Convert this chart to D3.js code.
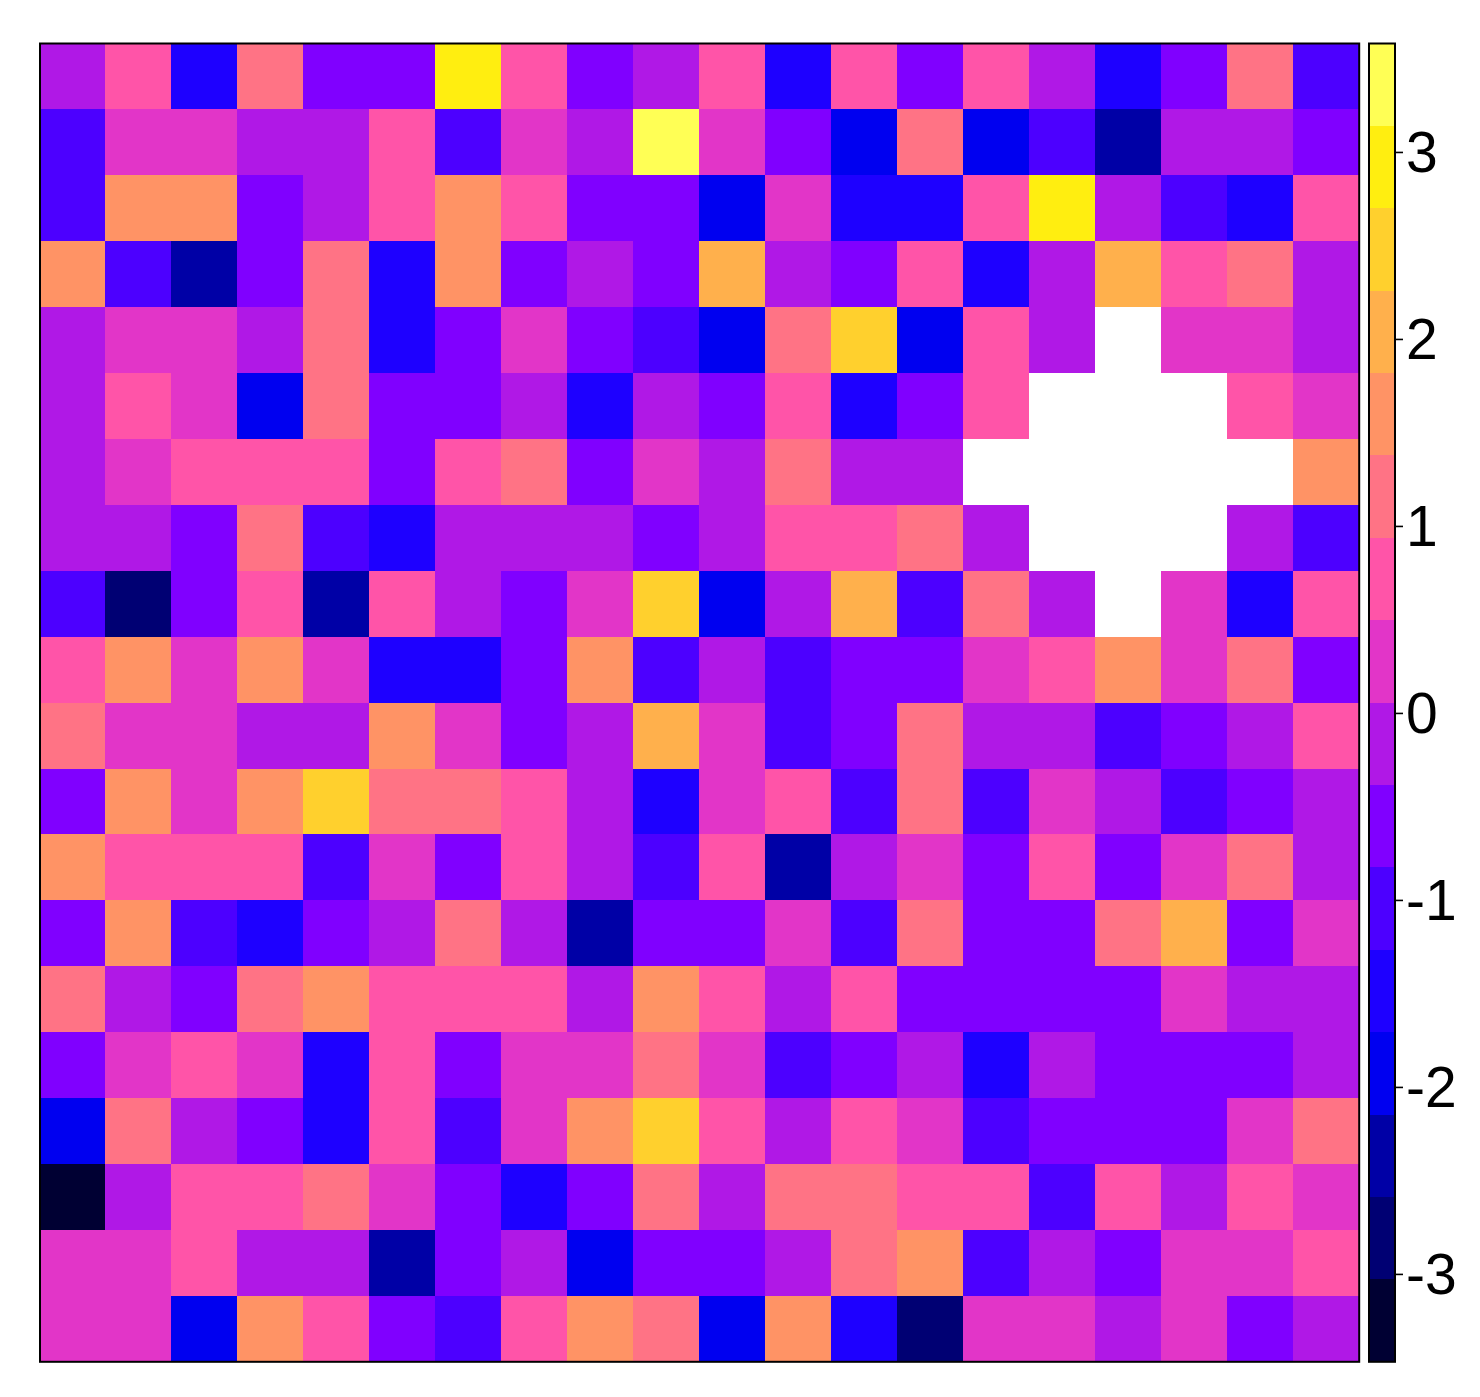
<!DOCTYPE html>
<html>
<head>
<meta charset="utf-8">
<script src="https://d3js.org/d3.v7.min.js"></script>
<style>
html, body { margin: 0; padding: 0; background: #fff; }
svg { display: block; }
</style>
</head>
<body>
<div id="chart"></div>
<script>
// cell values, top row first, null = missing (white)
var row01 = [-0.17,0.71,-1.49,1.15,-0.61,-0.61,2.91,0.71,-0.61,-0.17,0.71,-1.49,0.71,-0.61,0.71,-0.17,-1.49,-0.61,1.15,-1.05];
var row02 = [-1.05,0.27,0.27,-0.17,-0.17,0.71,-1.05,0.27,-0.17,3.35,0.27,-0.61,-1.93,1.15,-1.93,-1.05,-2.37,-0.17,-0.17,-0.61];
var row03 = [-1.05,1.59,1.59,-0.61,-0.17,0.71,1.59,0.71,-0.61,-0.61,-1.93,0.27,-1.49,-1.49,0.71,2.91,-0.17,-1.05,-1.49,0.71];
var row04 = [1.59,-1.05,-2.37,-0.61,1.15,-1.49,1.59,-0.61,-0.17,-0.61,2.03,-0.17,-0.61,0.71,-1.49,-0.17,2.03,0.71,1.15,-0.17];
var row05 = [-0.17,0.27,0.27,-0.17,1.15,-1.49,-0.61,0.27,-0.61,-1.05,-1.93,1.15,2.47,-1.93,0.71,-0.17,null,0.27,0.27,-0.17];
var row06 = [-0.17,0.71,0.27,-1.93,1.15,-0.61,-0.61,-0.17,-1.49,-0.17,-0.61,0.71,-1.49,-0.61,0.71,null,null,null,0.71,0.27];
var row07 = [-0.17,0.27,0.71,0.71,0.71,-0.61,0.71,1.15,-0.61,0.27,-0.17,1.15,-0.17,-0.17,null,null,null,null,null,1.59];
var row08 = [-0.17,-0.17,-0.61,1.15,-1.05,-1.49,-0.17,-0.17,-0.17,-0.61,-0.17,0.71,0.71,1.15,-0.17,null,null,null,-0.17,-1.05];
var row09 = [-1.05,-2.81,-0.61,0.71,-2.37,0.71,-0.17,-0.61,0.27,2.47,-1.93,-0.17,2.03,-1.05,1.15,-0.17,null,0.27,-1.49,0.71];
var row10 = [0.71,1.59,0.27,1.59,0.27,-1.49,-1.49,-0.61,1.59,-1.05,-0.17,-1.05,-0.61,-0.61,0.27,0.71,1.59,0.27,1.15,-0.61];
var row11 = [1.15,0.27,0.27,-0.17,-0.17,1.59,0.27,-0.61,-0.17,2.03,0.27,-1.05,-0.61,1.15,-0.17,-0.17,-1.05,-0.61,-0.17,0.71];
var row12 = [-0.61,1.59,0.27,1.59,2.47,1.15,1.15,0.71,-0.17,-1.49,0.27,0.71,-1.05,1.15,-1.05,0.27,-0.17,-1.05,-0.61,-0.17];
var row13 = [1.59,0.71,0.71,0.71,-1.05,0.27,-0.61,0.71,-0.17,-1.05,0.71,-2.37,-0.17,0.27,-0.61,0.71,-0.61,0.27,1.15,-0.17];
var row14 = [-0.61,1.59,-1.05,-1.49,-0.61,-0.17,1.15,-0.17,-2.37,-0.61,-0.61,0.27,-1.05,1.15,-0.61,-0.61,1.15,2.03,-0.61,0.27];
var row15 = [1.15,-0.17,-0.61,1.15,1.59,0.71,0.71,0.71,-0.17,1.59,0.71,-0.17,0.71,-0.61,-0.61,-0.61,-0.61,0.27,-0.17,-0.17];
var row16 = [-0.61,0.27,0.71,0.27,-1.49,0.71,-0.61,0.27,0.27,1.15,0.27,-1.05,-0.61,-0.17,-1.49,-0.17,-0.61,-0.61,-0.61,-0.17];
var row17 = [-1.93,1.15,-0.17,-0.61,-1.49,0.71,-1.05,0.27,1.59,2.47,0.71,-0.17,0.71,0.27,-1.05,-0.61,-0.61,-0.61,0.27,1.15];
var row18 = [-3.25,-0.17,0.71,0.71,1.15,0.27,-0.61,-1.49,-0.61,1.15,-0.17,1.15,1.15,0.71,0.71,-1.05,0.71,-0.17,0.71,0.27];
var row19 = [0.27,0.27,0.71,-0.17,-0.17,-2.37,-0.61,-0.17,-1.93,-0.61,-0.61,-0.17,1.15,1.59,-1.05,-0.17,-0.61,0.27,0.27,0.71];
var row20 = [0.27,0.27,-1.93,1.59,0.71,-0.61,-1.05,0.71,1.59,1.15,-1.93,1.59,-1.49,-2.81,0.27,0.27,-0.17,0.27,-0.61,-0.17];
var rows = [row01,row02,row03,row04,row05,row06,row07,row08,row09,row10,
            row11,row12,row13,row14,row15,row16,row17,row18,row19,row20];

var legend_ticks = [-3,-2,-1,0,1,2,3];
var value_range = [-3.47, 3.58];
var palette = ['#000033','#000073','#0000A6','#0000F0','#1E00FF','#4C00FF','#8000FF','#B018E6',
               '#E235C8','#FF54A8','#FF7385','#FF9365','#FFB04C','#FFD02D','#FFEE10','#FFFF55'];

var width = 1480, height = 1397;
var plot = {left: 39.4, right: 1359.2, top: 43.5, bottom: 1361.8};
var bar = {left: 1369, right: 1395};

var svg = d3.select("#chart")
  .append("svg")
  .attr("width", width)
  .attr("height", height);

var color = d3.scaleQuantize().domain(value_range).range(palette);
var x = d3.scaleBand().domain(d3.range(20)).range([plot.left, plot.right]);
var y = d3.scaleBand().domain(d3.range(20)).range([plot.top, plot.bottom]);

// heat map cells
svg.selectAll("g.row")
  .data(rows)
  .enter()
  .append("g")
  .attr("class", "row")
  .each(function(row, i){
    d3.select(this).selectAll("rect")
      .data(row)
      .enter()
      .append("rect")
      .attr("x", function(d, j){ return x(j); })
      .attr("y", y(i))
      .attr("width", x.bandwidth())
      .attr("height", y.bandwidth())
      .attr("shape-rendering", "crispEdges")
      .attr("fill", function(d){ return d === null ? "#fff" : color(d); });
  });

svg.append("rect")
  .attr("x", 40)
  .attr("y", plot.top)
  .attr("width", plot.right - 40)
  .attr("height", plot.bottom - plot.top)
  .attr("fill", "none")
  .attr("stroke", "#000")
  .attr("stroke-width", 2);

// colour bar
var legendY = d3.scaleLinear().domain(value_range).range([plot.bottom, plot.top]);

svg.selectAll("rect.band")
  .data(palette)
  .enter()
  .append("rect")
  .attr("class", "band")
  .attr("x", bar.left)
  .attr("width", bar.right - bar.left)
  .attr("y", function(d){ return legendY(color.invertExtent(d)[1]); })
  .attr("height", function(d){
    var e = color.invertExtent(d);
    return legendY(e[0]) - legendY(e[1]);
  })
  .attr("shape-rendering", "crispEdges")
  .attr("fill", function(d){ return d; });

svg.append("rect")
  .attr("x", bar.left)
  .attr("y", plot.top)
  .attr("width", bar.right - bar.left)
  .attr("height", plot.bottom - plot.top)
  .attr("fill", "none")
  .attr("stroke", "#000")
  .attr("stroke-width", 2);

var axis = d3.axisRight(legendY)
  .tickValues(legend_ticks)
  .tickSize(8)
  .tickPadding(3)
  .tickFormat(function(d){ return String(d); });

var axis_g = svg.append("g")
  .attr("transform", "translate(" + bar.right + ",0)")
  .call(axis);
axis_g.select(".domain").remove();
axis_g.selectAll("line").attr("stroke", "#000").attr("stroke-width", 1.6);
axis_g.selectAll("text")
  .attr("font-family", "'Liberation Sans', Arial, sans-serif")
  .attr("font-size", 57)
  .attr("dy", "0.35em")
  .attr("fill", "#000");
</script>
</body>
</html>
